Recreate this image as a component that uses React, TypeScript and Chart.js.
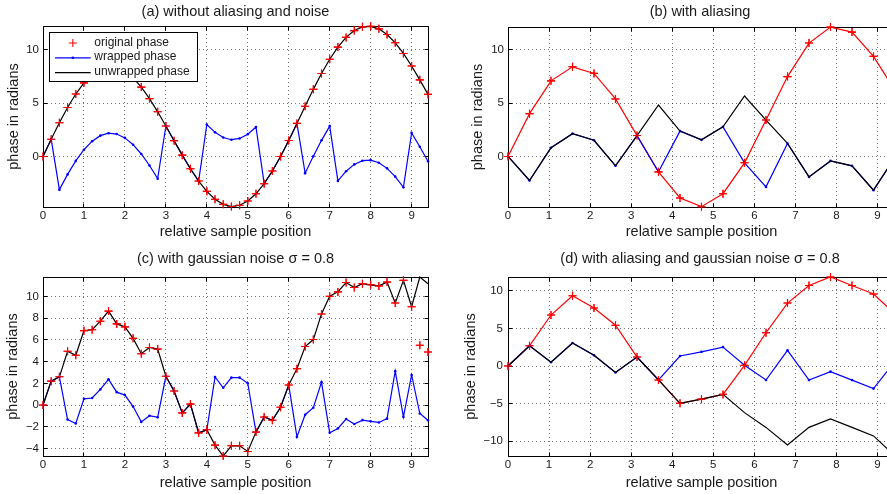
import React, { useEffect, useRef } from 'react';
import { Chart, registerables } from 'chart.js';

Chart.register(...registerables);

const FONT = "'Liberation Sans', Arial, Helvetica, sans-serif";
const INK = '#1a1a1a';
const RED = '#ff0000';
const BLUE = '#0000ff';
const BLACK = '#000000';
const GRID = 'rgba(0,0,0,0.55)';

// ---------- data ----------
const xDense = [0, 0.2, 0.4, 0.6, 0.8, 1.0, 1.2, 1.4, 1.6, 1.8, 2.0, 2.2, 2.4, 2.6, 2.8, 3.0, 3.2, 3.4, 3.6, 3.8, 4.0, 4.2, 4.4, 4.6, 4.8, 5.0, 5.2, 5.4, 5.6, 5.8, 6.0, 6.2, 6.4, 6.6, 6.8, 7.0, 7.2, 7.4, 7.6, 7.8, 8.0, 8.2, 8.4, 8.6, 8.8, 9.0, 9.2, 9.4];
const xSparse = [0, 0.524, 1.047, 1.571, 2.094, 2.618, 3.142, 3.665, 4.189, 4.712, 5.236, 5.76, 6.283, 6.807, 7.33, 7.854, 8.378, 8.901, 9.425];
const xTickValues = [0, 1, 2, 3, 4, 5, 6, 7, 8, 9];

// (a) without aliasing and noise
const originalA = [0, 1.61, 3.16, 4.59, 5.86, 6.91, 7.71, 8.23, 8.46, 8.38, 8.02, 7.38, 6.51, 5.43, 4.19, 2.86, 1.48, 0.12, -1.16, -2.31, -3.28, -4.02, -4.5, -4.71, -4.59, -4.19, -3.51, -2.56, -1.37, 0.0, 1.5, 3.1, 4.71, 6.3, 7.79, 9.13, 10.27, 11.18, 11.82, 12.17, 12.22, 11.98, 11.45, 10.67, 9.67, 8.49, 7.19, 5.83];
const wrappedA = [0, 1.61, -3.12, -1.69, -0.42, 0.63, 1.43, 1.95, 2.18, 2.1, 1.74, 1.1, 0.23, -0.85, -2.09, 2.86, 1.48, 0.12, -1.16, -2.31, 3.0, 2.26, 1.78, 1.57, 1.69, 2.09, 2.77, -2.56, -1.37, 0.0, 1.5, 3.1, -1.57, 0.02, 1.51, 2.85, -2.3, -1.39, -0.75, -0.4, -0.35, -0.59, -1.12, -1.9, -2.9, 2.21, 0.91, -0.45];
const unwrappedA = [0, 1.61, 3.16, 4.59, 5.86, 6.91, 7.71, 8.23, 8.46, 8.38, 8.02, 7.38, 6.51, 5.43, 4.19, 2.86, 1.48, 0.12, -1.16, -2.31, -3.28, -4.02, -4.5, -4.71, -4.59, -4.19, -3.51, -2.56, -1.37, 0.0, 1.5, 3.1, 4.71, 6.3, 7.79, 9.13, 10.27, 11.18, 11.82, 12.17, 12.22, 11.98, 11.45, 10.67, 9.67, 8.49, 7.19, 5.83];

// (b) with aliasing
const originalB = [0, 4.02, 7.1, 8.42, 7.8, 5.4, 1.96, -1.45, -3.9, -4.72, -3.5, -0.6, 3.42, 7.5, 10.65, 12.15, 11.68, 9.4, 6.2];
const wrappedB = [0, -2.26, 0.82, 2.14, 1.52, -0.88, 1.96, -1.45, 2.38, 1.56, 2.78, -0.6, -2.86, 1.22, -1.92, -0.42, -0.89, -3.17, -0.08];
const unwrappedB = [0, -2.26, 0.82, 2.14, 1.52, -0.88, 1.96, 4.83, 2.38, 1.56, 2.78, 5.68, 3.42, 1.22, -1.92, -0.42, -0.89, -3.17, -0.08];

// (c) with gaussian noise
const originalC = [0, 2.2, 2.6, 4.95, 4.58, 6.85, 6.93, 7.72, 8.65, 7.47, 7.2, 6.14, 4.73, 5.3, 5.15, 2.65, 1.29, -0.72, 0.09, -2.56, -2.28, -3.69, -4.69, -3.75, -3.75, -4.27, -2.49, -1.1, -1.4, -0.2, 1.84, 3.35, 5.39, 6.03, 8.39, 10.02, 10.42, 11.28, 10.82, 11.18, 11.07, 10.97, 11.32, 9.4, 11.48, 9.05, 5.5, 4.88];
const wrappedC = [0, 2.2, 2.6, -1.33, -1.7, 0.57, 0.65, 1.44, 2.37, 1.19, 0.92, -0.14, -1.55, -0.98, -1.13, 2.65, 1.29, -0.72, 0.09, -2.56, -2.28, 2.59, 1.59, 2.53, 2.53, 2.01, -2.49, -1.1, -1.4, -0.2, 1.84, -2.93, -0.89, -0.25, 2.11, -2.55, -2.15, -1.29, -1.75, -1.39, -1.5, -1.6, -1.25, 3.12, -1.09, 2.77, -0.78, -1.4];
const unwrappedC = [0, 2.2, 2.6, 4.95, 4.58, 6.85, 6.93, 7.72, 8.65, 7.47, 7.2, 6.14, 4.73, 5.3, 5.15, 2.65, 1.29, -0.72, 0.09, -2.56, -2.28, -3.69, -4.69, -3.75, -3.75, -4.27, -2.49, -1.1, -1.4, -0.2, 1.84, 3.35, 5.39, 6.03, 8.39, 10.02, 10.42, 11.28, 10.82, 11.18, 11.07, 10.97, 11.32, 9.4, 11.48, 9.05, 11.79, 11.17];

// (d) with aliasing and gaussian noise
const originalD = [0, 2.69, 6.77, 9.33, 7.7, 5.42, 1.19, -1.85, -4.95, -4.4, -3.77, 0.09, 4.42, 8.36, 10.7, 11.82, 10.7, 9.57, 6.9];
const wrappedD = [0, 2.69, 0.49, 3.05, 1.42, -0.86, 1.19, -1.85, 1.33, 1.88, 2.51, 0.09, -1.86, 2.08, -1.87, -0.75, -1.87, -3.0, 0.62];
const unwrappedD = [0, 2.69, 0.49, 3.05, 1.42, -0.86, 1.19, -1.85, -4.95, -4.4, -3.77, -6.19, -8.15, -10.49, -8.15, -7.03, -8.15, -9.28, -11.95];

const yTicksAB = [0, 5, 10];
const yTicksC = [-4, -2, 0, 2, 4, 6, 8, 10];
const yTicksD = [-10, -5, 0, 5, 10];

const LABEL_ORIGINAL = 'original phase';
const LABEL_WRAPPED = 'wrapped phase';
const LABEL_UNWRAPPED = 'unwrapped phase';
const X_TITLE = 'relative sample position';
const Y_TITLE = 'phase in radians';

// ---------- layout specs ----------
type PanelSpec = {
  key: string; title: string;
  left: number; top: number; width: number; height: number;
  yw: number; rw: number; xh: number;
  titlePad: { top: number; bottom: number };
  yTitlePad: number; yTickPad: number; xTickPad: number; xTitlePad: number;
  x: number[]; xMax: number; yMin: number; yMax: number; yTicks: number[];
  original: number[]; wrapped: number[]; unwrapped: number[];
  originalLine: boolean; legend: boolean;
};

const panels: PanelSpec[] = [
  {
    key: 'a', title: '(a) without aliasing and noise',
    left: 0, top: 0, width: 471, height: 247, yw: 43, rw: 43, xh: 40,
    titlePad: { top: 2.8, bottom: 5.8 }, yTitlePad: 5, yTickPad: 4, xTickPad: 1.9, xTitlePad: 6.3,
    x: xDense, xMax: 9.4, yMin: -4.75, yMax: 12.25, yTicks: yTicksAB,
    original: originalA, wrapped: wrappedA, unwrapped: unwrappedA, originalLine: false, legend: true,
  },
  {
    key: 'b', title: '(b) with aliasing',
    left: 443, top: 0, width: 514, height: 247, yw: 65, rw: 62, xh: 40,
    titlePad: { top: 2.8, bottom: 6.8 }, yTitlePad: 26.5, yTickPad: 4, xTickPad: 1.9, xTitlePad: 6.6,
    x: xSparse, xMax: 9.4248, yMin: -4.75, yMax: 12.16, yTicks: yTicksAB,
    original: originalB, wrapped: wrappedB, unwrapped: unwrappedB, originalLine: true, legend: false,
  },
  {
    key: 'c', title: '(c) with gaussian noise \u03C3 = 0.8',
    left: 0, top: 247, width: 471, height: 247, yw: 43, rw: 43, xh: 38,
    titlePad: { top: 3.0, bottom: 9.6 }, yTitlePad: 4.5, yTickPad: 4, xTickPad: 1.6, xTitlePad: 2.8,
    x: xDense, xMax: 9.4, yMin: -4.69, yMax: 11.79, yTicks: yTicksC,
    original: originalC, wrapped: wrappedC, unwrapped: unwrappedC, originalLine: false, legend: false,
  },
  {
    key: 'd', title: '(d) with aliasing and gaussian noise \u03C3 = 0.8',
    left: 443, top: 247, width: 514, height: 247, yw: 65, rw: 62, xh: 38,
    titlePad: { top: 3.2, bottom: 9.4 }, yTitlePad: 19, yTickPad: 5, xTickPad: 1.6, xTitlePad: 2.8,
    x: xSparse, xMax: 9.4248, yMin: -11.95, yMax: 11.82, yTicks: yTicksD,
    original: originalD, wrapped: wrappedD, unwrapped: unwrappedD, originalLine: true, legend: false,
  },
];

// ---------- helpers ----------
const align = (p: number) => Math.round(p - 0.5) + 0.5;
const fmt = (v: any) => {
  const n = Number(v);
  return n < 0 ? '\u2212' + Math.abs(n) : String(n);
};

const framePlugin = {
  id: 'matlabFrame',
  beforeDatasetsDraw(chart: any) {
    const { ctx, chartArea } = chart;
    const xs = chart.scales.x;
    const ys = chart.scales.y;
    const L = align(chartArea.left);
    const R = align(chartArea.right);
    const T = align(chartArea.top);
    const B = align(chartArea.bottom);
    ctx.save();
    ctx.setLineDash([]);
    ctx.strokeStyle = '#000';
    ctx.lineWidth = 1;
    ctx.strokeRect(L, T, R - L, B - T);
    const tl = 4;
    ctx.beginPath();
    for (const t of xs.ticks) {
      const p = align(xs.getPixelForValue(t.value));
      ctx.moveTo(p, B); ctx.lineTo(p, B - tl);
      ctx.moveTo(p, T); ctx.lineTo(p, T + tl);
    }
    for (const t of ys.ticks) {
      const p = align(ys.getPixelForValue(t.value));
      ctx.moveTo(L, p); ctx.lineTo(L + tl, p);
      ctx.moveTo(R, p); ctx.lineTo(R - tl, p);
    }
    ctx.stroke();
    ctx.restore();
  },
};

// markers of the "original phase" series are drawn above all lines (as in the source figure)
const markersOnTopPlugin = {
  id: 'markersOnTop',
  afterDatasetsDraw(chart: any) {
    const meta = chart.getDatasetMeta(0);
    chart.ctx.save();
    meta.data.forEach((el: any) => el.draw(chart.ctx, undefined));
    chart.ctx.restore();
  },
};

const legendPlugin = {
  id: 'insetLegend',
  afterDatasetsDraw(chart: any) {
    const { ctx, chartArea } = chart;
    const x0 = align(chartArea.left + 6.3);
    const y0 = align(chartArea.top + 6.5);
    const w = 148;
    const h = 49;
    ctx.save();
    ctx.setLineDash([]);
    ctx.fillStyle = '#ffffff';
    ctx.fillRect(x0, y0, w, h);
    ctx.strokeStyle = '#000';
    ctx.lineWidth = 1;
    ctx.strokeRect(x0, y0, w, h);
    const rows = [y0 + 10.5, y0 + 25.3, y0 + 40.1];
    const sx0 = x0 + 5.5;
    const sx1 = x0 + 41.2;
    const sxm = (sx0 + sx1) / 2;
    const tx = x0 + 44.8;
    ctx.font = `12px ${FONT}`;
    ctx.textBaseline = 'middle';
    ctx.textAlign = 'left';
    chart.data.datasets.forEach((ds: any, i: number) => {
      const y = rows[i];
      if (ds.showLine) {
        ctx.strokeStyle = ds.borderColor;
        ctx.lineWidth = ds.borderWidth;
        ctx.beginPath();
        ctx.moveTo(sx0, y);
        ctx.lineTo(sx1, y);
        ctx.stroke();
      }
      if (ds.pointRadius > 0) {
        if (ds.pointStyle === 'cross') {
          const r = ds.pointRadius;
          ctx.strokeStyle = ds.pointBorderColor;
          ctx.lineWidth = ds.pointBorderWidth;
          ctx.beginPath();
          ctx.moveTo(sxm - r, y); ctx.lineTo(sxm + r, y);
          ctx.moveTo(sxm, y - r); ctx.lineTo(sxm, y + r);
          ctx.stroke();
        } else {
          ctx.fillStyle = ds.pointBackgroundColor;
          ctx.beginPath();
          ctx.arc(sxm, y, ds.pointRadius, 0, Math.PI * 2);
          ctx.fill();
        }
      }
      ctx.fillStyle = INK;
      ctx.fillText(ds.label, tx, y - 0.8);
    });
    ctx.restore();
  },
};

function buildConfig(s: PanelSpec): any {
  const pts = (ys: number[]) => s.x.map((x, i) => ({ x, y: ys[i] }));
  const tickFont = { family: FONT, size: 11.5 };
  const labelFont = { family: FONT, size: 14.5 };
  return {
    type: 'scatter',
    data: {
      datasets: [
        {
          label: LABEL_ORIGINAL,
          data: pts(s.original),
          showLine: s.originalLine,
          borderColor: RED,
          backgroundColor: RED,
          borderWidth: 1.2,
          pointStyle: 'cross',
          pointRadius: 4,
          pointBorderColor: RED,
          pointBorderWidth: 1.1,
          pointBackgroundColor: RED,
          clip: false,
          order: 3,
          yAxisID: 'y',
        },
        {
          label: LABEL_WRAPPED,
          data: pts(s.wrapped),
          showLine: true,
          borderColor: BLUE,
          backgroundColor: BLUE,
          borderWidth: 1.2,
          pointStyle: 'circle',
          pointRadius: 1.3,
          pointBorderWidth: 0,
          pointBackgroundColor: BLUE,
          clip: false,
          order: 2,
          yAxisID: 'y',
        },
        {
          label: LABEL_UNWRAPPED,
          data: pts(s.unwrapped),
          showLine: true,
          borderColor: BLACK,
          backgroundColor: BLACK,
          borderWidth: 1.2,
          pointRadius: 0,
          clip: false,
          order: 1,
          yAxisID: 'y',
        },
      ],
    },
    options: {
      responsive: false,
      animation: false,
      devicePixelRatio: 1,
      events: [],
      layout: { padding: 0 },
      plugins: {
        legend: { display: false },
        tooltip: { enabled: false },
        title: {
          display: true,
          text: s.title,
          color: INK,
          font: { ...labelFont, weight: 'normal' },
          padding: s.titlePad,
        },
      },
      scales: {
        x: {
          type: 'linear',
          position: 'bottom',
          min: 0,
          max: s.xMax,
          afterBuildTicks: (sc: any) => { sc.ticks = xTickValues.map((v) => ({ value: v })); },
          afterFit: (sc: any) => { sc.height = s.xh; },
          grid: { color: GRID, lineWidth: 1, drawTicks: false },
          border: { display: false, dash: [1, 3] },
          ticks: { color: INK, font: tickFont, padding: s.xTickPad, autoSkip: false, maxRotation: 0, callback: fmt },
          title: { display: true, text: X_TITLE, color: INK, font: labelFont, padding: { top: 0, bottom: s.xTitlePad } },
        },
        y: {
          type: 'linear',
          position: 'left',
          min: s.yMin,
          max: s.yMax,
          afterBuildTicks: (sc: any) => { sc.ticks = s.yTicks.map((v) => ({ value: v })); },
          afterFit: (sc: any) => { sc.width = s.yw; },
          grid: { color: GRID, lineWidth: 1, drawTicks: false },
          border: { display: false, dash: [1, 3] },
          ticks: { color: INK, font: tickFont, padding: s.yTickPad, autoSkip: false, callback: fmt },
          title: { display: true, text: Y_TITLE, color: INK, font: labelFont, padding: { top: s.yTitlePad, bottom: 0 } },
        },
        yR: {
          type: 'linear',
          position: 'right',
          display: true,
          min: 0,
          max: 1,
          afterFit: (sc: any) => { sc.width = s.rw; },
          grid: { display: false, drawTicks: false },
          border: { display: false },
          ticks: { display: false },
          title: { display: false },
        },
      },
    },
    plugins: s.legend
      ? [framePlugin, markersOnTopPlugin, legendPlugin]
      : [framePlugin, markersOnTopPlugin],
  };
}

function PhasePanel({ spec }: { spec: PanelSpec }) {
  const ref = useRef<HTMLCanvasElement | null>(null);
  useEffect(() => {
    if (!ref.current) return;
    const chart = new Chart(ref.current, buildConfig(spec));
    return () => chart.destroy();
  }, [spec]);
  return (
    <canvas
      ref={ref}
      width={spec.width}
      height={spec.height}
      style={{ position: 'absolute', left: spec.left, top: spec.top, width: spec.width, height: spec.height }}
    />
  );
}

export default function App() {
  return (
    <div
      style={{
        position: 'fixed', left: 0, top: 0, width: 887, height: 494,
        overflow: 'hidden', background: '#ffffff',
      }}
    >
      {panels.map((p) => (
        <PhasePanel key={p.key} spec={p} />
      ))}
    </div>
  );
}
